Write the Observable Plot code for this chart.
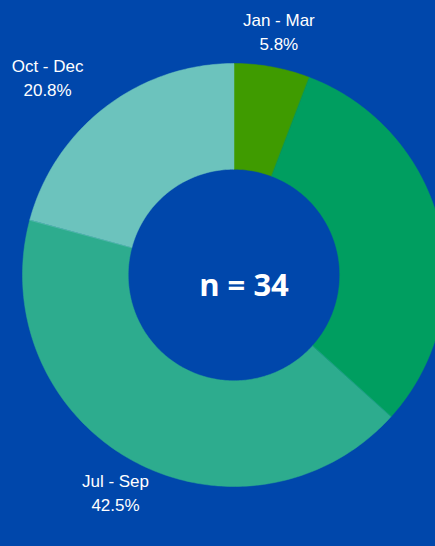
<!DOCTYPE html>
<html>
<head>
<meta charset="utf-8">
<script src="https://cdn.jsdelivr.net/npm/d3@7"></script>
<script src="https://cdn.jsdelivr.net/npm/@observablehq/plot@0.6"></script>
<style>
  html, body { margin: 0; padding: 0; background: #0047ab; overflow: hidden; }
</style>
</head>
<body>
<div id="chart"></div>
<script>
// ---- data ----
const quarters = ["Jan - Mar", "Apr - Jun", "Jul - Sep", "Oct - Dec"];
const shares = [5.8, 30.9, 42.5, 20.8];
const sliceColors = ["#3f9b00", "#009e60", "#2dac8e", "#6cc3bd"];
const centerLabel = "n = 34";

// ---- layout ----
const W = 435, H = 546;
const cx = 233.5, cy = 274.5, Rpx = 211.5; // donut centre and outer radius (px)
const inner = 0.5;   // inner radius as share of outer
const labelR = 1.17; // label radius as share of outer

const rows = quarters.map((q, i) => ({quarter: q, share: shares[i]}));
const arcs = d3.pie().sort(null).value(d => d.share)(rows);

// polygon points of each ring segment (angles from d3.pie, clockwise from 12 o'clock)
const pts = [];
for (const a of arcs) {
  const n = Math.max(8, Math.ceil((a.endAngle - a.startAngle) * 60));
  for (let k = 0; k <= n; k++) {
    const t = a.startAngle + (a.endAngle - a.startAngle) * k / n;
    pts.push({quarter: a.data.quarter, x: Math.sin(t), y: Math.cos(t)});
  }
  for (let k = n; k >= 0; k--) {
    const t = a.startAngle + (a.endAngle - a.startAngle) * k / n;
    pts.push({quarter: a.data.quarter, x: inner * Math.sin(t), y: inner * Math.cos(t)});
  }
}

const labels = arcs.map(a => {
  const m = (a.startAngle + a.endAngle) / 2;
  return {
    text: `${a.data.quarter}\n${a.data.share.toFixed(1)}%`,
    x: labelR * Math.sin(m),
    y: labelR * Math.cos(m),
    upperLeft: m > 1.5 * Math.PI
  };
}).filter(d => cx + d.x * Rpx < W); // labels outside the frame are not shown

const labelStyle = {
  x: "x", y: "y", text: "text",
  fill: "white", fontSize: 17, lineHeight: 1.42,
  fontFamily: "Liberation Sans, Arial, sans-serif"
};

const chart = Plot.plot({
  width: W,
  height: H,
  margin: 0,
  style: {background: "#0047ab", overflow: "hidden"},
  x: {domain: [-cx / Rpx, (W - cx) / Rpx], range: [0, W], axis: null},
  y: {domain: [-(H - cy) / Rpx, cy / Rpx], range: [H, 0], axis: null},
  color: {type: "ordinal", domain: quarters, range: sliceColors},
  marks: [
    Plot.line(pts, {x: "x", y: "y", z: "quarter", fill: "quarter", stroke: "quarter", strokeWidth: 0.5, curve: "linear-closed"}),
    Plot.text(labels.filter(d => !d.upperLeft), {...labelStyle, dy: -1}),
    Plot.text(labels.filter(d => d.upperLeft), {...labelStyle, dx: -36, dy: -2}),
    Plot.text([centerLabel], {
      x: [0], y: [0], text: d => d, dx: 10, dy: 11,
      fill: "white", fontSize: 31, fontWeight: "bold",
      fontFamily: "Open Sans, sans-serif"
    })
  ]
});

document.getElementById("chart").append(chart);
</script>
</body>
</html>
